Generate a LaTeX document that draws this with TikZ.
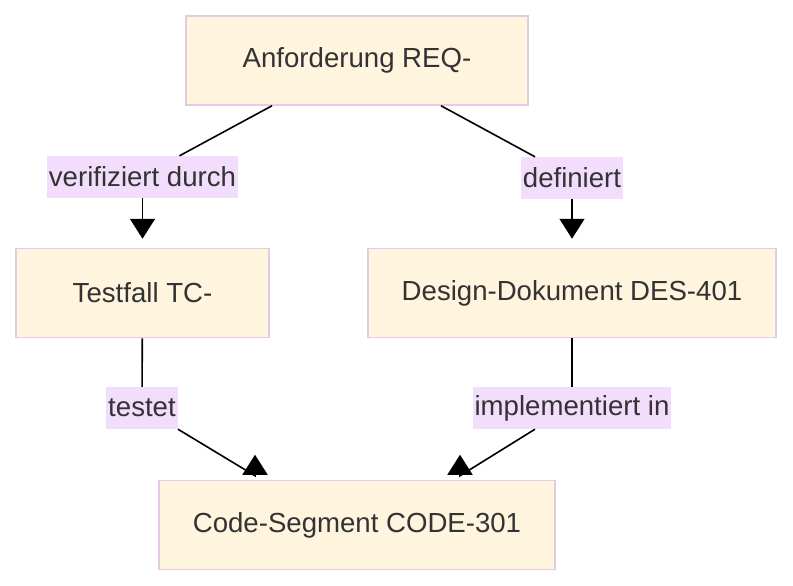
\documentclass[tikz,border=0pt]{standalone}
\usepackage{fontspec}
\setmainfont{Liberation Sans}
\usetikzlibrary{arrows.meta}
\definecolor{boxfill}{HTML}{FFF4DD}
\definecolor{boxline}{HTML}{E3CBE3}
\definecolor{lblfill}{HTML}{F2DDFC}
\definecolor{txt}{HTML}{333333}

\begin{document}
\begin{tikzpicture}[x=1pt,y=-1pt,
  box/.style = {draw=boxline, fill=boxfill, line width=1.5pt, minimum height=89pt, text=txt, font=\fontsize{27.6}{33}\selectfont},
  lbl/.style = {fill=lblfill, inner xsep=2pt, inner ysep=0pt, minimum height=42pt, text=txt, font=\fontsize{27.6}{33}\selectfont},
  line/.style = {line width=1.6pt},
  tip/.style = {line width=1.6pt, -{Triangle[width=25pt,length=20pt]}}]
\useasboundingbox (0,0) rectangle (793,586);
\node[box, minimum width=342pt] (req) at (357,60.5) {Anforderung REQ-};
\node[box, minimum width=253pt] (tc) at (142.5,293) {Testfall TC-};
\node[box, minimum width=408pt] (des) at (572,293) {Design-Dokument DES-401};
\node[box, minimum width=396pt] (code) at (357,525) {Code-Segment CODE-301};
\node[lbl] (verif) at (142.5,177) {verifiziert durch};
\node[lbl] (defin) at (572,178) {definiert};
\node[lbl] (test) at (142,408) {testet};
\node[lbl] (impl) at (572,408) {implementiert in};
\draw[line] ([xshift=-85pt]req.south) -- ([xshift=37pt]verif.north);
\draw[tip, shorten >=9pt] (verif) -- (tc);
\draw[line] ([xshift=84pt]req.south) -- ([xshift=-37pt]defin.north);
\draw[tip, shorten >=9pt] (defin) -- (des);
\draw[line] (tc) -- (test);
\draw[tip] (test.south east) -- ([shift={(-102,-4)}]code.north) -- ++(0,-21);
\draw[line] (des) -- (impl);
\draw[tip] ([xshift=-37pt]impl.south) -- ([shift={(103,-4)}]code.north) -- ++(0,-21);
\end{tikzpicture}
\end{document}
